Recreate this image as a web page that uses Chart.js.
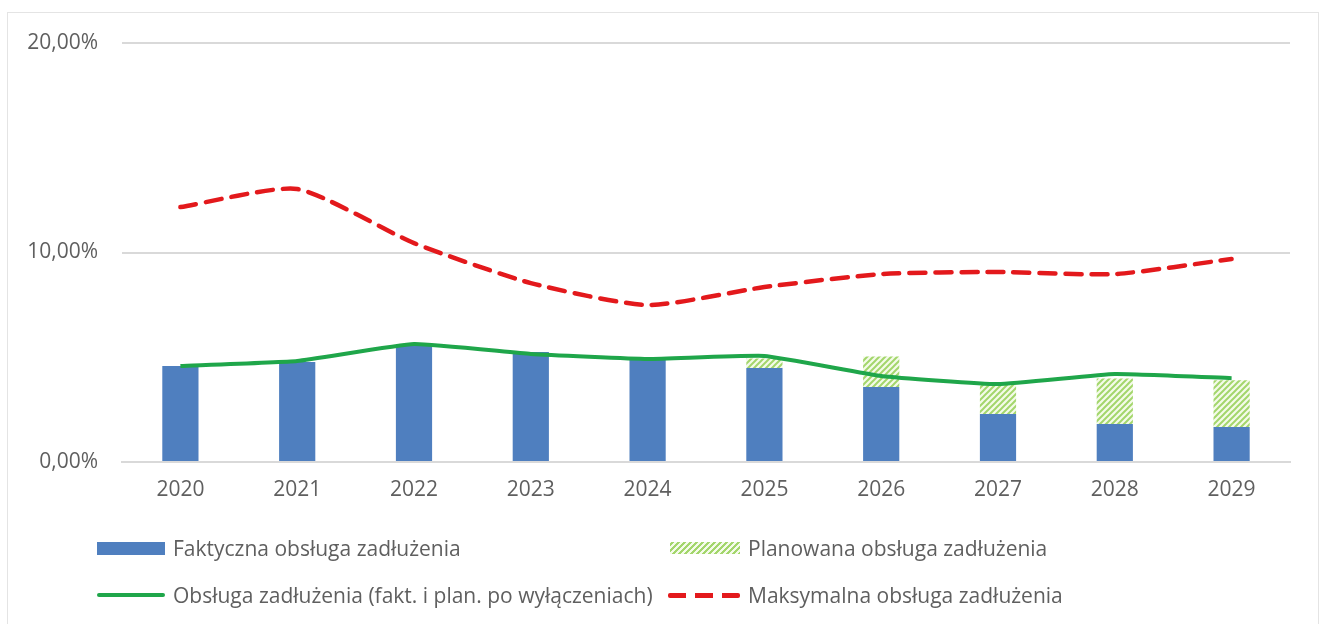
<!DOCTYPE html>
<html>
<head>
<meta charset="utf-8">
<script src="https://cdn.jsdelivr.net/npm/chart.js@4/dist/chart.umd.min.js"></script>
<style>
  html, body { margin: 0; padding: 0; background: #fff; }
  body { width: 1325px; height: 624px; position: relative; overflow: hidden; font-family: 'Open Sans', sans-serif; }
  .frame { position: absolute; left: 7px; top: 12px; width: 1310px; height: 640px; border: 1px solid #e4e4e4; }
  #wrap { position: absolute; left: 0; top: 0; width: 1325px; height: 520px; }
  .legend { position: absolute; left: 0; top: 0; width: 1325px; height: 624px; pointer-events: none; }
  .item { position: absolute; display: flex; align-items: center; font-size: 21px; color: #5f5f5f; white-space: nowrap; }
  .sw { width: 68px; margin-right: 8px; }
</style>
</head>
<body>
<div class="frame"></div>
<div id="wrap"><canvas id="debtChart"></canvas></div>
<div class="legend" id="legend"></div>
<script>
const years = ['2020', '2021', '2022', '2023', '2024', '2025', '2026', '2027', '2028', '2029'];
const actual = [4.58, 4.77, 5.58, 5.25, 5.0, 4.49, 3.58, 2.29, 1.81, 1.67];
const planned = [0, 0, 0, 0, 0, 0.45, 1.46, 1.48, 2.17, 2.23];
const afterExcl = [4.58, 4.82, 5.63, 5.16, 4.92, 5.06, 4.11, 3.72, 4.2, 4.0];
const maxService = [12.17, 13.03, 10.45, 8.54, 7.49, 8.35, 8.97, 9.07, 8.97, 9.69];
const yTicks = [0, 10, 20];

const BLUE = '#4f7fbf';
const GREEN = '#1fa64a';
const RED = '#e3191c';
const HATCH = '#a3d66c';

// hatched fill for planned part
function makeHatch() {
    const c = document.createElement('canvas');
    c.width = 6; c.height = 6;
    const g = c.getContext('2d');
    g.fillStyle = '#f4fbe9';
    g.fillRect(0, 0, 6, 6);
    g.strokeStyle = HATCH;
    g.lineWidth = 2;
    g.beginPath();
    g.moveTo(-1, 7); g.lineTo(7, -1);
    g.moveTo(-4, 4); g.lineTo(4, -4);
    g.moveTo(2, 10); g.lineTo(10, 2);
    g.stroke();
    return g.createPattern(c, 'repeat');
}

const ctx = document.getElementById('debtChart').getContext('2d');
const hatch = makeHatch();

new Chart(ctx, {
    type: 'bar',
    data: {
        labels: years,
        datasets: [
            {
                type: 'line',
                label: 'Obsługa zadłużenia (fakt. i plan. po wyłączeniach)',
                data: afterExcl,
                stack: 'g',
                borderColor: GREEN,
                borderWidth: 4,
                tension: 0.12,
                pointRadius: 0,
                order: 0
            },
            {
                type: 'line',
                label: 'Maksymalna obsługa zadłużenia',
                data: maxService,
                stack: 'r',
                borderColor: RED,
                borderWidth: 4.5,
                borderDash: [16, 10],
                borderCapStyle: 'round',
                tension: 0.2,
                pointRadius: 0,
                order: 0
            },
            {
                label: 'Faktyczna obsługa zadłużenia',
                data: actual,
                stack: 'b',
                backgroundColor: BLUE,
                barPercentage: 0.31,
                categoryPercentage: 1,
                order: 1
            },
            {
                label: 'Planowana obsługa zadłużenia',
                data: planned,
                stack: 'b',
                backgroundColor: hatch,
                barPercentage: 0.31,
                categoryPercentage: 1,
                order: 1
            }
        ]
    },
    options: {
        responsive: true,
        maintainAspectRatio: false,
        animation: false,
        layout: { padding: { left: 0, right: 35, top: 43, bottom: 0 } },
        plugins: {
            legend: { display: false },
            tooltip: { enabled: false }
        },
        scales: {
            x: {
                stacked: true,
                grid: { display: false, drawTicks: false },
                border: { color: '#d9d9d9', width: 2 },
                ticks: {
                    color: '#5f5f5f',
                    font: { family: 'Open Sans', size: 21 },
                    padding: 15,
                    maxRotation: 0
                },
                afterFit: function(scale) { scale.height = 58; }
            },
            y: {
                stacked: true,
                min: 0,
                max: 20,
                afterBuildTicks: function(scale) {
                    scale.ticks = yTicks.map(v => ({ value: v }));
                },
                grid: { color: '#d9d9d9', lineWidth: 2, drawTicks: false },
                border: { display: false },
                ticks: {
                    color: '#5f5f5f',
                    font: { family: 'Open Sans', size: 21 },
                    padding: 24,
                    callback: function(v) { return v.toFixed(2).replace('.', ',') + '%'; }
                },
                afterFit: function(scale) { scale.width = 122; }
            }
        }
    }
});

// legend built from the same labels
const legendItems = [
    { label: 'Faktyczna obsługa zadłużenia', left: 97, top: 549, sw: 'background:' + BLUE + ';height:13px;' },
    { label: 'Planowana obsługa zadłużenia', left: 670, top: 549, sw: 'width:70px;height:12px;background:repeating-linear-gradient(-45deg,' + HATCH + ' 0 2px,#f4fbe9 2px 4.2px);' },
    { label: 'Obsługa zadłużenia (fakt. i plan. po wyłączeniach)', left: 97, top: 596, sw: 'height:4px;border-radius:2px;background:' + GREEN + ';' },
    { label: 'Maksymalna obsługa zadłużenia', left: 668, top: 596, sw: 'width:72px;height:5px;background:repeating-linear-gradient(90deg,' + RED + ' 0 18px,transparent 18px 27px);border-radius:2px;' }
];
const legendEl = document.getElementById('legend');
legendItems.forEach(it => {
    const d = document.createElement('div');
    d.className = 'item';
    d.style.left = it.left + 'px';
    d.style.top = (it.top - 15) + 'px';
    d.innerHTML = '<span class="sw" style="' + it.sw + '"></span><span>' + it.label + '</span>';
    legendEl.appendChild(d);
});
</script>
</body>
</html>
